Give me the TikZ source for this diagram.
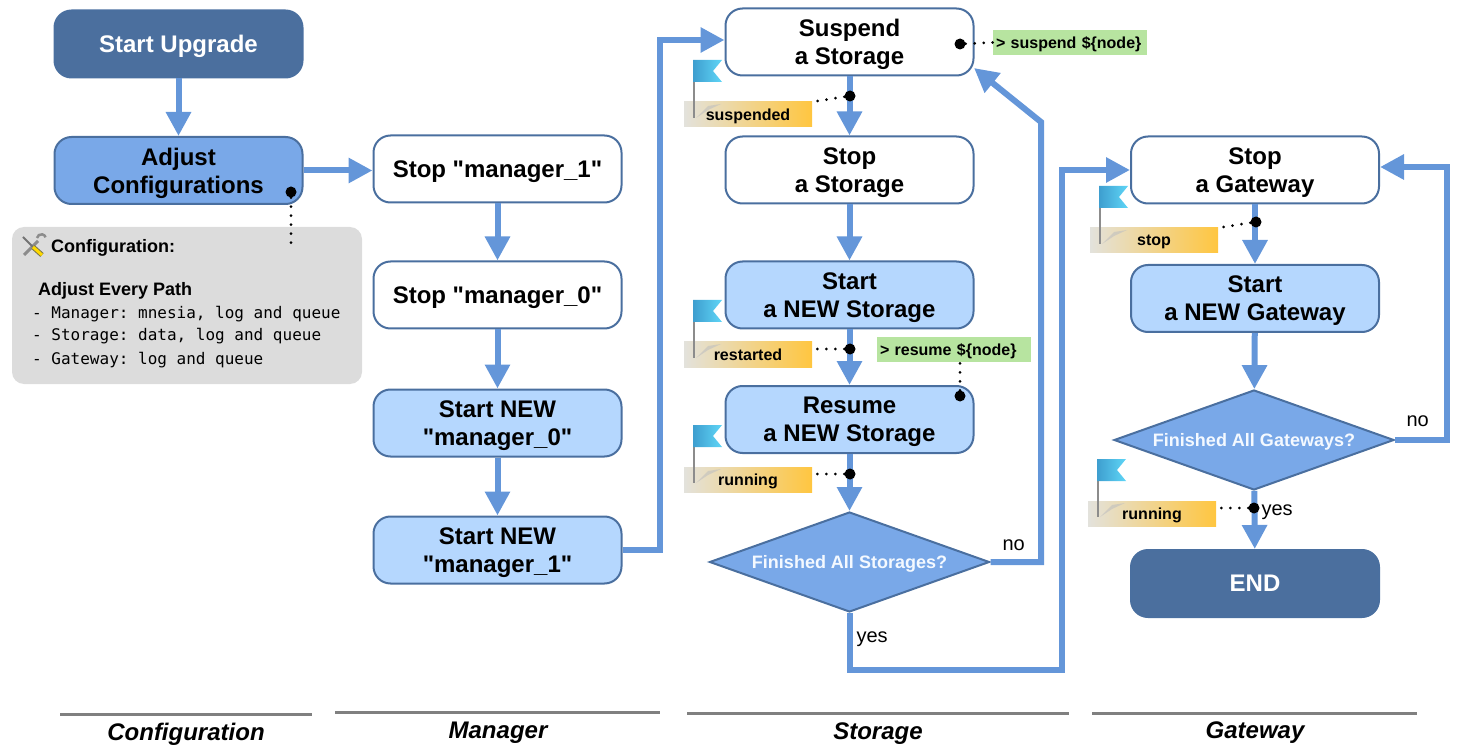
\documentclass[tikz,border=0pt]{standalone}
\usepackage{fontspec}
\setmainfont{Liberation Sans}
\newfontfamily\boxfont{Liberation Sans}
\setmonofont{DejaVu Sans Mono}
\usetikzlibrary{arrows.meta,shapes.geometric}
\definecolor{flowblue}{HTML}{6496D9}
\definecolor{edgeblue}{HTML}{4A6F9F}
\definecolor{midblue}{HTML}{79A8E8}
\definecolor{paleblue}{HTML}{B5D7FE}
\definecolor{termblue}{HTML}{4B6F9E}
\definecolor{cmdgreen}{HTML}{B7E4A0}
\definecolor{cfggray}{HTML}{DCDCDC}
\definecolor{flagdark}{HTML}{3E9ECF}
\definecolor{flaglight}{HTML}{5FD6F7}
\definecolor{tagleft}{HTML}{E3E2DC}
\definecolor{tagright}{HTML}{FFC640}
\tikzset{
    box/.style={draw=edgeblue,line width=2pt,rectangle,rounded corners=17pt,minimum width=248pt,minimum height=67pt,
        inner sep=0pt,align=center,text depth=0pt,font=\boxfont\fontsize{24}{28}\selectfont\bfseries},
    plainbox/.style={box,fill=white},
    newbox/.style={box,fill=paleblue},
    midbox/.style={box,fill=midblue},
    termbox/.style={box,fill=termblue,text=white},
    choice/.style={draw=edgeblue,line width=2pt,diamond,aspect=2.8,fill=midblue,minimum width=280pt,minimum height=100pt,
        inner sep=0pt,text depth=0pt,text=white!85!paleblue,font=\fontsize{18}{20}\selectfont\bfseries},
    flow/.style={->,draw=flowblue,line width=6pt},
    hint/.style={dash pattern=on 0pt off 9pt,line cap=round,line width=3pt},
    dot/.style={circle,fill=black,inner sep=0pt,minimum size=11pt},
    statetag/.style={left color=tagleft,right color=tagright,inner sep=0pt,minimum width=128pt,minimum height=25pt,
        text depth=0pt,font=\fontsize{16}{18}\selectfont\bfseries},
    cmdtag/.style={fill=cmdgreen,inner xsep=3pt,inner ysep=0pt,text width=148pt,minimum height=25pt,align=left,
        text depth=0pt,font=\fontsize{16}{18}\selectfont\bfseries},
    cfghead/.style={anchor=base west,inner sep=0pt,font=\fontsize{18}{20}\selectfont\bfseries},
    cfgline/.style={anchor=base west,inner sep=0pt,font=\fontsize{16}{18}\selectfont\ttfamily},
    lane/.style={draw=black!50,line width=3pt},
    lanename/.style={text depth=0pt,font=\fontsize{24}{28}\selectfont\bfseries\itshape},
    answer/.style={text depth=0pt,font=\fontsize{20}{22}\selectfont},
}
\begin{document}
\begin{tikzpicture}[x=1pt,y=-1pt,>={Triangle[width=24pt,length=24pt]}]
    \useasboundingbox (0,0) rectangle (1462,751);

    % configuration
    \node[termbox] (start) at (178.5,44) {Start Upgrade};
    \node[midbox] (adjust) at (178.5,170.5) {Adjust\\Configurations};
    \node[fill=cfggray,rounded corners=12pt,minimum width=350pt,minimum height=157pt,inner sep=0pt] (cfgbox) at (187,305.5) {};
    \node[cfghead] (cfgtitle) at (51,253) {Configuration:};
    \node[cfghead] (cfgpath) at (38,296) {Adjust Every Path};
    \node[cfgline] (cfgmanager) at (32,319) {- Manager: mnesia, log and queue};
    \node[cfgline] (cfgstorage) at (32,341) {- Storage: data, log and queue};
    \node[cfgline] (cfggateway) at (32,364) {- Gateway: log and queue};

    % manager
    \node[plainbox] (stopone) at (497.5,169) {Stop "manager\_1"};
    \node[plainbox] (stopzero) at (497.5,295) {Stop "manager\_0"};
    \node[newbox] (newzero) at (497.5,423) {Start NEW\\"manager\_0"};
    \node[newbox] (newone) at (497.5,550) {Start NEW\\"manager\_1"};

    % storage
    \node[plainbox] (suspend) at (849.5,42) {Suspend\\a Storage};
    \node[plainbox] (stopstore) at (849.5,170) {Stop\\a Storage};
    \node[newbox] (newstore) at (849.5,295) {Start\\a NEW Storage};
    \node[newbox] (resume) at (849.5,419.5) {Resume\\a NEW Storage};
    \node[choice] (allstore) at (849.5,562) {Finished All Storages?};

    % gateway
    \node[plainbox] (stopgate) at (1255,170) {Stop\\a Gateway};
    \node[newbox] (newgate) at (1255,298.5) {Start\\a NEW Gateway};
    \node[choice] (allgate) at (1254,440) {Finished All Gateways?};
    \node[termbox] (finish) at (1255,583.5) {END};

    \coordinate (turnstore) at (660,40);
    \coordinate (turnyes) at (1062,670);
    \coordinate (turnno) at (1041,122);
    \coordinate (backstore) at (974,68);
    \coordinate (turngate) at (1447,167);
    \coordinate (backgate) at (1380,167);

    \draw[flow] (start)--(adjust);
    \draw[flow] (adjust.east)--(adjust.east-|stopone.west);
    \draw[flow] (stopone)--(stopzero);
    \draw[flow] (stopzero)--(newzero);
    \draw[flow] (newzero)--(newone);
    \draw[flow] (newone.east)-|(turnstore)--(turnstore-|suspend.west);
    \draw[flow] (suspend)--(stopstore);
    \draw[flow] (stopstore)--(newstore);
    \draw[flow] (newstore)--(resume);
    \draw[flow] (resume)--(allstore);
    \draw[flow] (allstore.east)-|(turnno)--(backstore);
    \draw[flow] (allstore.south)|-(turnyes)|-(stopgate.west);
    \draw[flow] (stopgate)--(newgate);
    \draw[flow] (newgate)--(allgate);
    \draw[flow] (allgate)--(finish);
    \draw[flow] (allgate.east)-|(turngate)--(backgate);

    \node[answer,anchor=west] (storeno) at (999,545) {no};
    \node[answer,anchor=west] (storeyes) at (853,637) {yes};
    \node[answer,anchor=west] (gateno) at (1403,421) {no};
    \node[answer,anchor=west] (gateyes) at (1258,510) {yes};

    % state tags and commands
    \node[statetag] (tagsuspended) at (748,114.5) {suspended};
    \node[statetag] (tagrestarted) at (748,354.5) {restarted};
    \node[statetag] (tagrunning) at (748,479.5) {running};
    \node[statetag] (tagstop) at (1154,240.5) {stop};
    \node[statetag] (taggate) at (1152,513.5) {running};
    \node[cmdtag] (cmdsuspend) at (1070,42.5) {> suspend \$\{node\}};
    \node[cmdtag] (cmdresume) at (954,349.5) {> resume \$\{node\}};

    \node[dot] (dotadjust) at (291,192) {};
    \node[dot] (dotsuspend) at (960,44) {};
    \node[dot] (dotsuspended) at (850,96) {};
    \node[dot] (dotrestarted) at (850,349) {};
    \node[dot] (dotresume) at (960,396) {};
    \node[dot] (dotrunning) at (850,474) {};
    \node[dot] (dotstop) at (1256,222) {};
    \node[dot] (dotgate) at (1254,508) {};
    \coordinate (endadjust) at (291,243);

    \draw[hint] (dotadjust)--(endadjust);
    \draw[hint] (dotsuspend)--(cmdsuspend.west);
    \draw[hint] (dotsuspended)--(tagsuspended.north east);
    \draw[hint] (dotrestarted)--(tagrestarted.east|-dotrestarted);
    \draw[hint] (dotresume)--(cmdresume.south-|dotresume);
    \draw[hint] (dotrunning)--(tagrunning.east|-dotrunning);
    \draw[hint] (dotstop)--(tagstop.north east);
    \draw[hint] (dotgate)--(taggate.east|-dotgate);

    % flags
    \foreach \fx/\fy in {693/60,693/300,693/425,1099/186,1097/459}{
        \fill[black!25,opacity=.6] (\fx+3,\fy+58)--(\fx+15,\fy+46)--(\fx+28,\fy+44)--(\fx+15,\fy+50)--cycle;
        \draw[black!45,line width=2pt] (\fx+1,\fy)--(\fx+1,\fy+58);
        \shade[left color=flagdark,right color=flaglight] (\fx,\fy)--(\fx+29,\fy)--(\fx+20,\fy+11)--(\fx+29,\fy+22)--(\fx,\fy+22)--cycle;
    }

    % tools icon
    \draw[black!45,line width=3pt] (24,255)--(38,241);
    \draw[black!45,line width=2.5pt] (37,238) arc (190:340:4.5);
    \draw[black!55,line width=2pt] (23,237)--(33,247);
    \draw[black!60!yellow,line width=5pt] (33,247)--(42,255);
    \draw[orange!30!yellow,line width=3pt] (33,247)--(42,255);

    % lanes
    \draw[lane] (60,714)--(312,714);
    \draw[lane] (335,712)--(660,712);
    \draw[lane] (687,713)--(1069,713);
    \draw[lane] (1092,713)--(1417,713);
    \node[lanename] (laneconfig) at (186,732) {Configuration};
    \node[lanename] (lanemanager) at (498,730) {Manager};
    \node[lanename] (lanestorage) at (878,731) {Storage};
    \node[lanename] (lanegateway) at (1255,730) {Gateway};
\end{tikzpicture}
\end{document}
